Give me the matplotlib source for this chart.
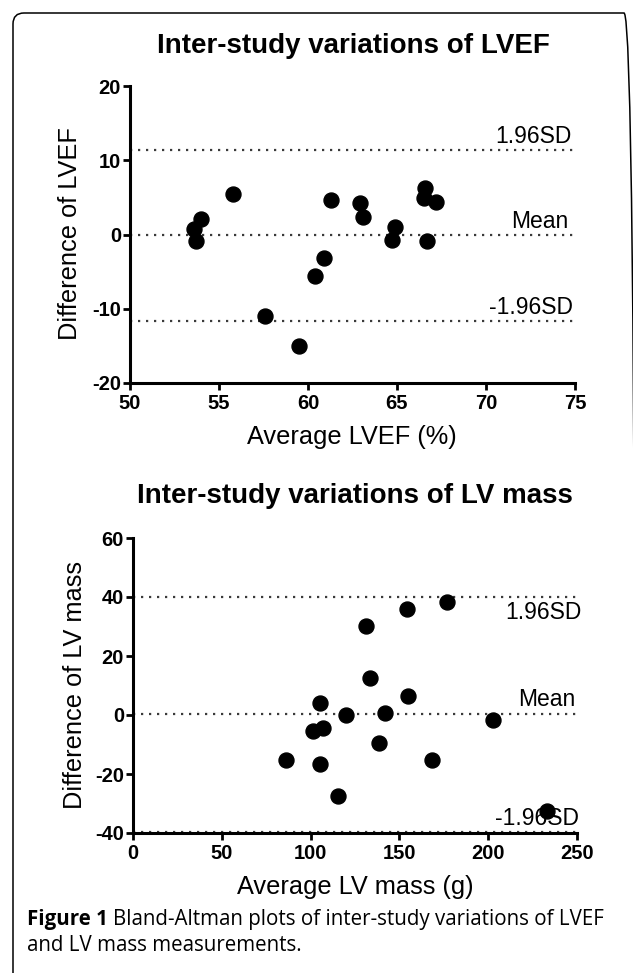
import matplotlib
matplotlib.use("Agg")
import matplotlib.pyplot as plt
from matplotlib.patches import FancyBboxPatch
from matplotlib.transforms import IdentityTransform

# values
lvef_avg = [53.6, 53.7, 54.0, 55.8, 57.6, 59.5, 60.4, 60.9, 61.3, 62.9, 63.1,
            64.7, 64.9, 66.5, 66.6, 66.7, 67.2]
lvef_diff = [0.7, -0.9, 2.1, 5.4, -11.0, -15.0, -5.6, -3.1, 4.6, 4.3, 2.4,
             -0.8, 1.0, 4.9, 6.2, -0.9, 4.4]
lvef_lines = [11.4, -0.1, -11.6]

mass_avg = [86.4, 101.4, 105.1, 107.1, 105.5, 115.3, 120.2, 131.0, 133.3,
            138.7, 141.7, 154.4, 154.6, 168.1, 176.7, 202.5, 232.9]
mass_diff = [-15.1, -5.3, 4.0, -4.4, -16.6, -27.3, 0.1, 30.1, 12.4, -9.5,
             0.8, 35.9, 6.4, -15.1, 38.3, -1.6, -32.7]
mass_lines = [40.0, 0.2, -39.7]

line_labels = ["1.96SD", "Mean", "-1.96SD"]

W, H = 633, 973
plt.rcParams["font.family"] = ["Liberation Sans", "DejaVu Sans"]
plt.rcParams["axes.unicode_minus"] = False
fig = plt.figure(figsize=(W / 100, H / 100), dpi=100)


def box(x0, y0, x1, y1):
    # pixel box (top-left origin) -> figure fraction rect
    return [x0 / W, 1 - y1 / H, (x1 - x0) / W, (y1 - y0) / H]


def ftext(x, y, s, **kw):
    return fig.text(x / W, 1 - y / H, s, **kw)


def style(ax):
    for s in ["top", "right"]:
        ax.spines[s].set_visible(False)
    for s in ["left", "bottom"]:
        ax.spines[s].set_linewidth(2.2)
    ax.tick_params(direction="out", length=5, width=2.0, labelsize=14.5)
    ax.tick_params(axis="x", pad=3)
    ax.tick_params(axis="y", pad=1.5)
    for t in ax.get_xticklabels() + ax.get_yticklabels():
        t.set_fontweight("bold")


def limits(ax, ys, xmax, offs):
    for y in ys:
        ax.axhline(y, color="#3a3a3a", lw=1.6, ls=(0, (1, 2.6)), zorder=1)
    for lab, y, (dx, dy, va) in zip(line_labels, ys, offs):
        ax.annotate(lab, (xmax, y), xytext=(dx, dy), textcoords="offset points",
                    ha="right", va=va, fontsize=16.5, annotation_clip=False)


# --- LVEF panel
ax1 = fig.add_axes(box(130, 86, 575, 383))
ax1.scatter(lvef_avg, lvef_diff, s=116, color="black", zorder=3, clip_on=False)
ax1.set_xlim(50, 75); ax1.set_ylim(-20, 20)
ax1.set_xticks([50, 55, 60, 65, 70, 75])
ax1.set_yticks([-20, -10, 0, 10, 20])
style(ax1)
limits(ax1, lvef_lines, 75, [(-2.2, 5, "baseline"), (-5, 5, "baseline"),
                             (-1.5, 5, "baseline")])
ftext(353, 53, "Inter-study variations of LVEF", fontsize=20,
      fontweight="bold", ha="center", va="baseline")
ftext(352, 437, "Average LVEF (%)", fontsize=18.3, ha="center", va="center")
ftext(70, 234, "Difference of LVEF", fontsize=18.3, rotation=90,
      ha="center", va="center")

# --- LV mass panel
ax2 = fig.add_axes(box(133, 538, 577, 833))
ax2.scatter(mass_avg, mass_diff, s=116, color="black", zorder=3, clip_on=False)
ax2.set_xlim(0, 250); ax2.set_ylim(-40, 60)
ax2.set_xticks([0, 50, 100, 150, 200, 250])
ax2.set_yticks([-40, -20, 0, 20, 40, 60])
style(ax2)
limits(ax2, mass_lines, 250, [(3.6, -3, "top"), (-1.5, 6.2, "baseline"),
                              (1.5, 4.8, "baseline")])
ftext(355, 503, "Inter-study variations of LV mass", fontsize=20,
      fontweight="bold", ha="center", va="baseline")
ftext(355, 887, "Average LV mass (g)", fontsize=18.3, ha="center", va="center")
ftext(75, 685, "Difference of LV mass", fontsize=18.3, rotation=90,
      ha="center", va="center")

# --- caption
cap_font = ["Open Sans", "DejaVu Sans"]
fig.canvas.draw()
r = fig.canvas.get_renderer()
t1 = ftext(27, 925, "Figure 1", fontsize=14.8, fontweight="bold",
           family=cap_font, va="baseline")
bb = t1.get_window_extent(r)
fig.text((bb.x1 + 5) / W, 1 - 925 / H,
         "Bland-Altman plots of inter-study variations of LVEF",
         fontsize=14.8, family=cap_font, va="baseline")
ftext(27, 951, "and LV mass measurements.", fontsize=14.8, family=cap_font,
      va="baseline")

# --- rounded frame
frame = FancyBboxPatch((13, -20), 622, H - 13 + 20,
                       boxstyle="round,pad=0,rounding_size=11",
                       transform=IdentityTransform(), fill=False,
                       lw=1.1, ec="black")
fig.patches.append(frame)

fig.savefig("out.png", dpi=100)
